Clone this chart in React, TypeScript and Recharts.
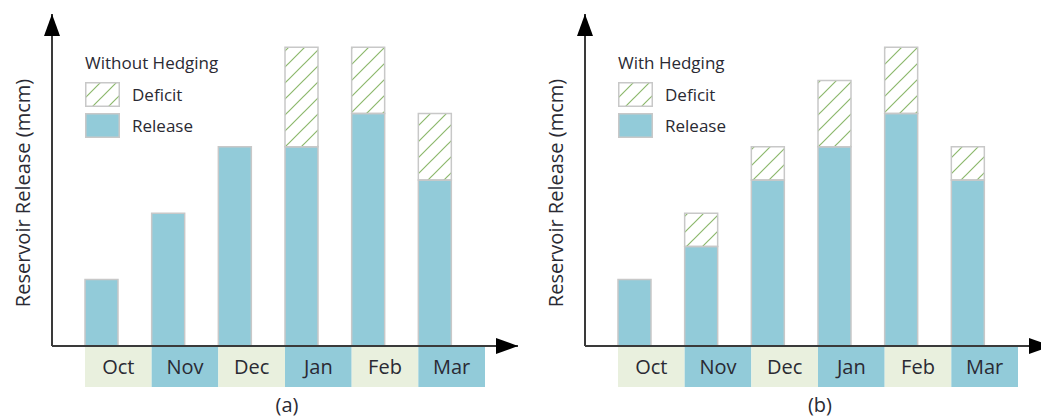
import { BarChart, Bar, XAxis, YAxis } from "recharts";

const months = ["Oct", "Nov", "Dec", "Jan", "Feb", "Mar"];

// panel (a) without hedging
const releaseWithout = [2, 4, 6, 6, 7, 5];
const deficitWithout = [0, 0, 0, 3, 2, 2];

// panel (b) with hedging
const releaseWith = [2, 3, 5, 6, 7, 5];
const deficitWith = [0, 1, 1, 2, 2, 1];

const FONT = "'Open Sans', sans-serif";
const TEXT = "#2a2a33";
const RELEASE = "#92cbd9";
const BAND_GREEN = "#e9f0de";
const EDGE = "#c8c8c8";
const AXIS = "#3a3a3a";
const BAND = 400 / 6;
const HATCH = "M0,16 L16,0 M-4,4 L4,-4 M12,20 L20,12";

function MonthTick(props: any) {
  const { x, y, payload } = props;
  const i = payload?.index ?? props.index ?? 0;
  return (
    <g>
      <rect
        x={x - BAND / 2}
        y={y + 1}
        width={BAND}
        height={40}
        fill={i % 2 === 0 ? BAND_GREEN : RELEASE}
      />
      <text
        x={x}
        y={y + 28}
        textAnchor="middle"
        fontFamily={FONT}
        fontSize={20}
        fill={TEXT}
      >
        {payload.value}
      </text>
    </g>
  );
}

function Swatch({ id, hatch }: { id: string; hatch: boolean }) {
  return (
    <svg width={35} height={25} style={{ display: "block" }}>
      {hatch && (
        <defs>
          <pattern id={id} patternUnits="userSpaceOnUse" width={16} height={16}>
            <path d={HATCH} stroke="#8cb86c" strokeWidth={1.2} />
          </pattern>
        </defs>
      )}
      <rect
        x={0.75}
        y={0.75}
        width={33.5}
        height={23.5}
        fill={hatch ? `url(#${id})` : RELEASE}
        stroke={EDGE}
        strokeWidth={1.5}
      />
    </svg>
  );
}

function HedgeLegend({ title, id }: { title: string; id: string }) {
  const row = (label: string, hatch: boolean, top: number) => (
    <div style={{ position: "absolute", left: 0, top, display: "flex", alignItems: "center" }}>
      <Swatch id={id} hatch={hatch} />
      <span style={{ marginLeft: 12, fontSize: 17, color: TEXT, fontFamily: FONT }}>{label}</span>
    </div>
  );
  return (
    <div style={{ position: "absolute", left: 85, top: 52, width: 200, height: 90 }}>
      <div
        style={{
          position: "absolute",
          left: 0,
          top: 0,
          fontSize: 17,
          lineHeight: "22px",
          color: TEXT,
          fontFamily: FONT,
          whiteSpace: "nowrap",
        }}
      >
        {title}
      </div>
      {row("Deficit", true, 30)}
      {row("Release", false, 61)}
    </div>
  );
}

function Panel({
  id,
  title,
  caption,
  release,
  deficit,
}: {
  id: string;
  title: string;
  caption: string;
  release: number[];
  deficit: number[];
}) {
  const data = months.map((m, i) => ({ month: m, release: release[i], deficit: deficit[i] }));

  return (
    <div style={{ position: "relative", width: 520, height: 419 }}>
      <BarChart
        width={520}
        height={419}
        data={data}
        margin={{ top: 14, right: 2, bottom: 0, left: 0 }}
        barCategoryGap={0}
        barGap={0}
      >
        <defs>
          <pattern id={`hatch-${id}`} patternUnits="userSpaceOnUse" width={16} height={16}>
            <path d={HATCH} stroke="#8cb86c" strokeWidth={1.2} />
          </pattern>
          <marker
            id={`arrow-${id}`}
            markerUnits="userSpaceOnUse"
            markerWidth={22}
            markerHeight={16}
            refX={22}
            refY={8}
            orient="auto-start-reverse"
          >
            <path d="M0,0 L22,8 L0,16 z" fill="#000" />
          </marker>
        </defs>
        <XAxis
          dataKey="month"
          interval={0}
          height={73}
          padding={{ left: 33, right: 33 }}
          tickLine={false}
          tickSize={0}
          tickMargin={0}
          axisLine={{ stroke: AXIS, strokeWidth: 2, markerEnd: `url(#arrow-${id})` }}
          tick={<MonthTick />}
          label={{
            position: "insideBottom",
            content: (p: any) => (
              <text
                x={p.viewBox.x + p.viewBox.width / 2 + 2}
                y={p.viewBox.y + 66}
                textAnchor="middle"
                fontFamily={FONT}
                fontSize={20}
                fill={TEXT}
              >
                {caption}
              </text>
            ),
          }}
        />
        <YAxis
          width={52}
          domain={[0, 10]}
          tick={false}
          tickLine={false}
          axisLine={{ stroke: AXIS, strokeWidth: 2, markerStart: `url(#arrow-${id})` }}
          label={{
            position: "center",
            content: () => (
              <text
                x={22}
                y={193}
                transform="rotate(-90, 22, 193)"
                textAnchor="middle"
                dominantBaseline="central"
                fontFamily={FONT}
                fontSize={20}
                fill={TEXT}
              >
                Reservoir Release (mcm)
              </text>
            ),
          }}
        />
        <Bar
          dataKey="release"
          stackId="main"
          fill={RELEASE}
          stroke={EDGE}
          strokeWidth={1.5}
          isAnimationActive={false}
        />
        <Bar
          dataKey="deficit"
          stackId="main"
          fill={`url(#hatch-${id})`}
          stroke={EDGE}
          strokeWidth={1.5}
          isAnimationActive={false}
        />
        {/* empty slot so each bar sits in the left half of its month band */}
        <Bar dataKey={() => 0} stackId="gap" legendType="none" isAnimationActive={false} />
      </BarChart>
      <HedgeLegend title={title} id={`sw-${id}`} />
    </div>
  );
}

export default function App() {
  return (
    <div
      style={{
        position: "absolute",
        left: 0,
        top: 0,
        width: 1041,
        height: 419,
        overflow: "hidden",
        background: "#fff",
      }}
    >
      <div style={{ position: "absolute", left: 0, top: 0 }}>
        <Panel
          id="a"
          title="Without Hedging"
          caption="(a)"
          release={releaseWithout}
          deficit={deficitWithout}
        />
      </div>
      <div style={{ position: "absolute", left: 533, top: 0 }}>
        <Panel
          id="b"
          title="With Hedging"
          caption="(b)"
          release={releaseWith}
          deficit={deficitWith}
        />
      </div>
    </div>
  );
}
